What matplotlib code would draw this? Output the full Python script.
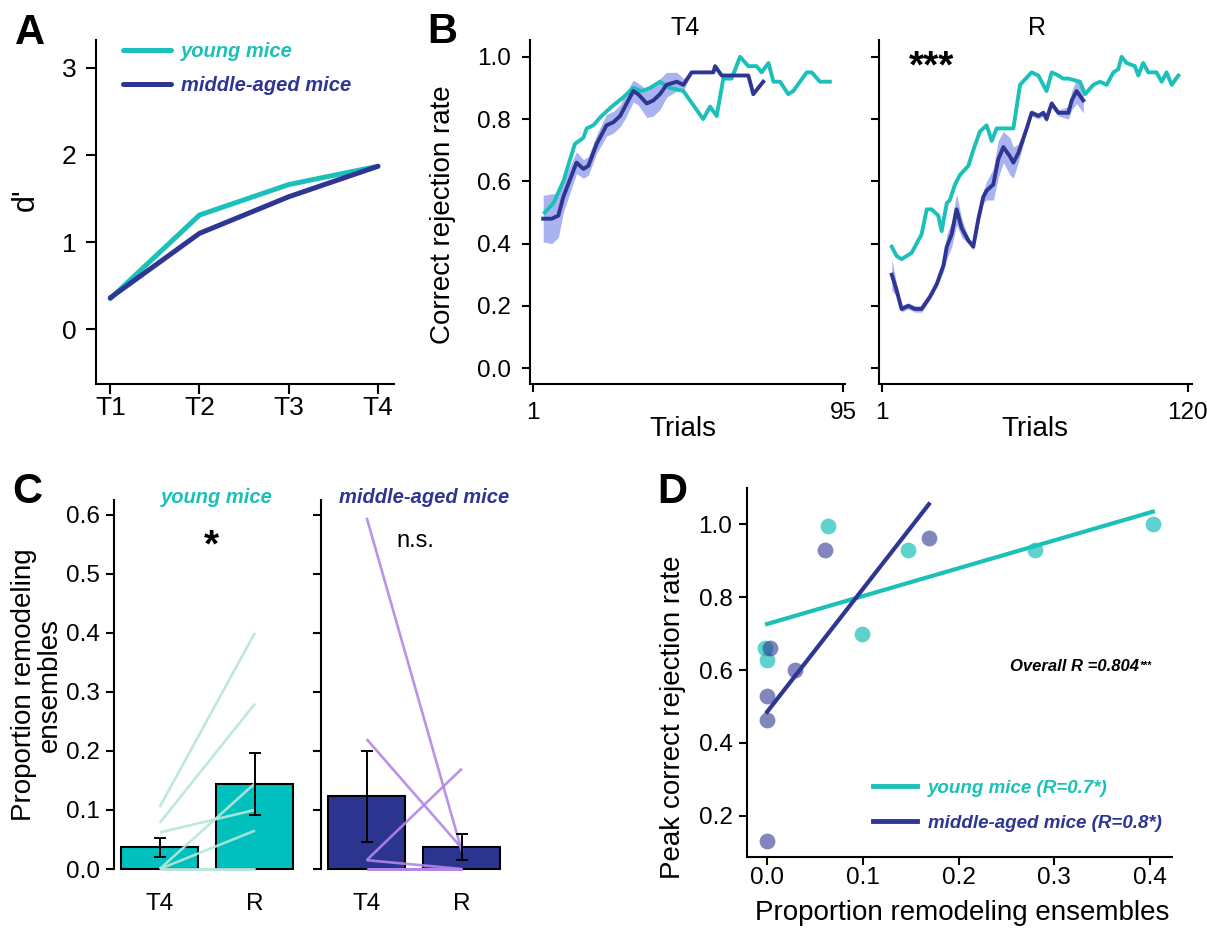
import matplotlib
matplotlib.use('Agg')
import matplotlib.pyplot as plt
import numpy as np
from matplotlib.lines import Line2D

plt.rcParams['font.family'] = ['Liberation Sans', 'DejaVu Sans']

CYAN = '#1bc0b9'
NAVY = '#2e3592'
CYAN_BAR = '#00c0bd'
NAVY_BAR = '#2b3590'
BAND = '#a9b3ef'
MINT = '#b7e6da'
PURPLE = '#b386e6'

# ---------------- Panel A data ----------------
sessions = ['T1', 'T2', 'T3', 'T4']
young_dprime = [0.35, 1.31, 1.66, 1.87]
middle_dprime = [0.36, 1.10, 1.52, 1.87]

# ---------------- Panel B data (T4) ----------------
t4_young_trial = [4.6, 7.2, 10.2, 13.7, 16.3, 17.3, 19.3, 21.8, 24.9, 28.4,
                  31.4, 34, 36.5, 39.5, 42.5, 46.6, 48.6, 52.6, 54.7, 56.7,
                  58.7, 61.2, 63.8, 66.3, 68.8, 70.3, 72.4, 73.9, 75.9, 78.4,
                  79.9, 84, 85.5, 88, 91]
t4_young_rate = [0.50, 0.53, 0.60, 0.72, 0.74, 0.77, 0.78, 0.81, 0.84, 0.87,
                 0.90, 0.89, 0.90, 0.92, 0.90, 0.89, 0.86, 0.80, 0.84, 0.81,
                 0.93, 0.93, 1.0, 0.97, 0.97, 0.95, 0.98, 0.92, 0.92, 0.88,
                 0.89, 0.95, 0.95, 0.92, 0.92]
t4_middle_trial = [4.1, 6.7, 8.7, 10.2, 14.2, 16.3, 17.8, 20.3, 23.3, 25.4,
                   27.4, 28.9, 31.4, 32.9, 35.5, 37.5, 39.5, 41.5, 44.6, 46.6,
                   49.1, 55.7, 56.2, 58.2, 66.3, 67.8, 70.8]
t4_middle_rate = [0.48, 0.48, 0.49, 0.55, 0.66, 0.64, 0.65, 0.72, 0.78, 0.79,
                  0.81, 0.84, 0.89, 0.88, 0.85, 0.86, 0.88, 0.91, 0.92, 0.91,
                  0.95, 0.95, 0.97, 0.94, 0.94, 0.88, 0.92]
t4_middle_sem = [0.075, 0.08, 0.07, 0.05, 0.035, 0.03, 0.03, 0.03, 0.035, 0.035,
                 0.035, 0.04, 0.035, 0.035, 0.045, 0.05, 0.05, 0.04, 0.03, 0.02,
                 0, 0, 0, 0, 0, 0, 0]

# ---------------- Panel B data (R) ----------------
r_young_trial = [4.8, 6.7, 8.6, 12.5, 13.8, 16.4, 18.4, 20.3, 22.9, 24.2,
                 26.2, 27.4, 29.4, 31.3, 34.6, 36.5, 39.1, 41.7, 43.7, 45.6,
                 48.2, 52.1, 54.7, 59.2, 61.8, 65, 67, 69.6, 71.5, 73.5,
                 78, 80, 83.2, 85.8, 88.4, 91, 92.9, 94.2, 96.2, 99.4,
                 100.7, 102.6, 104.6, 107.8, 109.8, 111.7, 113.7, 116.3]
r_young_rate = [0.39, 0.36, 0.35, 0.37, 0.39, 0.43, 0.51, 0.51, 0.49, 0.44,
                0.53, 0.54, 0.59, 0.62, 0.65, 0.70, 0.76, 0.78, 0.73, 0.77,
                0.77, 0.77, 0.91, 0.95, 0.94, 0.89, 0.95, 0.94, 0.93, 0.93,
                0.92, 0.88, 0.91, 0.92, 0.91, 0.95, 0.96, 1.0, 0.98, 0.97,
                0.94, 0.98, 0.95, 0.95, 0.92, 0.95, 0.91, 0.94]
r_middle_trial = [4.8, 6.7, 8.6, 11.2, 13.8, 16.4, 19.7, 22.3, 24.9, 26.2,
                  28.1, 30, 32, 34.6, 36.5, 38.5, 40.4, 41.7, 44.3, 46.2,
                  48.2, 50.8, 52.1, 54, 57.3, 59.2, 61.8, 63.8, 65, 67,
                  69.6, 73.5, 74.8, 76.7, 79.3]
r_middle_rate = [0.30, 0.25, 0.19, 0.20, 0.19, 0.19, 0.23, 0.27, 0.33, 0.39,
                 0.43, 0.51, 0.45, 0.41, 0.39, 0.48, 0.55, 0.57, 0.59, 0.67,
                 0.71, 0.68, 0.66, 0.69, 0.77, 0.82, 0.81, 0.82, 0.80, 0.85,
                 0.82, 0.82, 0.86, 0.89, 0.86]
r_middle_sem = [0.05, 0.02, 0.01, 0.01, 0.01, 0.01, 0.01, 0.01, 0.02, 0.04,
                0.04, 0.05, 0.03, 0.01, 0.01, 0.02, 0.02, 0.03, 0.05, 0.06,
                0.05, 0.06, 0.05, 0.03, 0.01, 0.01, 0.01, 0.01, 0.01, 0.01,
                0.01, 0.02, 0.03, 0.04, 0.04]

# ---------------- Panel C data ----------------
stages = ['T4', 'R']
young_T4 = [0.105, 0.078, 0.062, 0.0, 0.0, 0.0, 0.0]
young_R = [0.40, 0.28, 0.10, 0.145, 0.065, 0.0, 0.0]
young_bar_mean = [0.037, 0.144]
young_bar_sem = [0.016, 0.052]
middle_T4 = [0.595, 0.22, 0.015, 0.015, 0.0, 0.0, 0.0]
middle_R = [0.03, 0.035, 0.17, 0.0, 0.0, 0.0, 0.0]
middle_bar_mean = [0.123, 0.038]
middle_bar_sem = [0.077, 0.022]

# ---------------- Panel D data ----------------
young_prop = [-0.002, 0.0, 0.064, 0.099, 0.147, 0.28, 0.403]
young_peak = [0.661, 0.629, 0.997, 0.698, 0.931, 0.929, 1.0]
middle_prop = [0.003, 0.0, 0.0, 0.0, 0.029, 0.061, 0.169]
middle_peak = [0.661, 0.530, 0.464, 0.132, 0.600, 0.931, 0.963]

# ---------------- figure ----------------
W, H = 1207, 930
fig = plt.figure(figsize=(W / 100, H / 100), dpi=100)


def ax_px(l, t, r, b):
    return fig.add_axes([l / W, 1 - b / H, (r - l) / W, (b - t) / H])


def style(ax, tl=6, pad=5, size=17.5):
    for s in ['top', 'right']:
        ax.spines[s].set_visible(False)
    for s in ['left', 'bottom']:
        ax.spines[s].set_linewidth(1.5)
    ax.tick_params(width=1.5, length=tl, labelsize=size, pad=pad, direction='out')


LBL = 20

# ---- Panel A ----
axA = ax_px(96, 40, 394, 384)
style(axA, tl=7, size=19)
xa = np.arange(len(sessions))
axA.plot(xa, young_dprime, color=CYAN, lw=3.6, solid_capstyle='round', label='young mice')
axA.plot(xa, middle_dprime, color=NAVY, lw=3.6, solid_capstyle='round', label='middle-aged mice')
axA.set_xlim(-0.16, 3.18)
axA.set_ylim(-0.63, 3.32)
axA.set_xticks(xa)
axA.set_xticklabels(sessions)
axA.set_yticks([0, 1, 2, 3])
axA.tick_params(axis='x', pad=1.5)
axA.tick_params(axis='y', pad=7)
axA.set_ylabel("d'", fontsize=22)
axA.yaxis.set_label_coords(-0.235, 0.535)
axA.yaxis.label.set_va('center')
axA.legend(loc='upper left', bbox_to_anchor=(0.09, 0.995), frameon=False,
           handlelength=2.4, handletextpad=0.5, labelspacing=0.75,
           borderpad=0, borderaxespad=0, labelcolor='linecolor',
           prop={'weight': 'bold', 'style': 'italic', 'size': 14.5})

# ---- Panel B (T4) ----
axB1 = ax_px(530, 40, 845, 384)
style(axB1)
lo = np.array(t4_middle_rate) - np.array(t4_middle_sem)
hi = np.array(t4_middle_rate) + np.array(t4_middle_sem)
axB1.fill_between(t4_middle_trial, lo, hi, color=BAND, lw=0)
axB1.plot(t4_young_trial, t4_young_rate, color=CYAN, lw=2.8)
axB1.plot(t4_middle_trial, t4_middle_rate, color=NAVY, lw=2.8)
axB1.set_xlim(0.1, 95.6)
axB1.set_ylim(-0.051, 1.054)
axB1.set_xticks([1, 95])
axB1.set_yticks([0, 0.2, 0.4, 0.6, 0.8, 1.0])
axB1.set_yticklabels(['0.0', '0.2', '0.4', '0.6', '0.8', '1.0'])
axB1.tick_params(axis='x', pad=6.8)
axB1.tick_params(axis='y', pad=8)
axB1.set_title('T4', fontsize=18, pad=0)
axB1.title.set_va('center')
axB1.title.set_position((0.492, 1.041))
axB1.set_ylabel('Correct rejection rate', fontsize=LBL)
axB1.yaxis.set_label_coords(-0.276, 0.491)
axB1.yaxis.label.set_va('center')
axB1.set_xlabel('Trials', fontsize=LBL)
axB1.xaxis.set_label_coords(0.486, -0.13)
axB1.xaxis.label.set_va('center')

# ---- Panel B (R) ----
axB2 = ax_px(879, 40, 1192, 384)
style(axB2)
lo = np.array(r_middle_rate) - np.array(r_middle_sem)
hi = np.array(r_middle_rate) + np.array(r_middle_sem)
axB2.fill_between(r_middle_trial, lo, hi, color=BAND, lw=0)
axB2.plot(r_young_trial, r_young_rate, color=CYAN, lw=2.8)
axB2.plot(r_middle_trial, r_middle_rate, color=NAVY, lw=2.8)
axB2.set_xlim(-0.17, 121.6)
axB2.set_ylim(-0.051, 1.054)
axB2.set_xticks([1, 120])
axB2.set_yticks([0, 0.2, 0.4, 0.6, 0.8, 1.0])
axB2.tick_params(axis='y', labelleft=False)
axB2.tick_params(axis='x', pad=6.8)
axB2.set_title('R', fontsize=18, pad=0)
axB2.title.set_va('center')
axB2.title.set_position((0.505, 1.041))
axB2.set_xlabel('Trials', fontsize=LBL)
axB2.xaxis.set_label_coords(0.498, -0.13)
axB2.xaxis.label.set_va('center')
axB2.text(0.169, 0.892, '***', transform=axB2.transAxes, ha='center',
          va='baseline', fontsize=28, fontweight='bold')


# ---- Panel C ----
def panel_c(ax, t4, r, mean, sem, barcol, linecol, title, titlecol):
    style(ax, size=17.5, pad=4)
    ax.spines['bottom'].set_visible(False)
    xb = np.arange(len(stages))
    ax.bar(xb, mean, width=0.81, color=barcol, edgecolor='black', lw=1.5,
           clip_on=False, zorder=1)
    for a, b in zip(t4, r):
        ax.plot(xb, [a, b], color=linecol, lw=1.9, alpha=0.9, zorder=2,
                clip_on=False, solid_capstyle='butt')
    ax.errorbar(xb, mean, yerr=sem, fmt='none', ecolor='black',
                elinewidth=1.4, capsize=4, capthick=1.4, zorder=3)
    ax.set_xlim(-0.48, 1.5)
    ax.set_ylim(0, 0.625)
    ax.set_xticks(xb)
    ax.set_xticklabels(stages)
    ax.tick_params(axis='x', length=0, pad=17)
    ax.set_yticks([0, 0.1, 0.2, 0.3, 0.4, 0.5, 0.6])
    ax.set_yticklabels(['0.0', '0.1', '0.2', '0.3', '0.4', '0.5', '0.6'])
    ax.text(0.6, 0.62, title, color=titlecol, ha='center', va='baseline',
            fontsize=14.5, fontweight='bold', fontstyle='italic')
    return ax


axC1 = ax_px(114, 500, 302.5, 869)
panel_c(axC1, young_T4, young_R, young_bar_mean, young_bar_sem, CYAN_BAR, MINT,
        'young mice', CYAN)
axC1.text(0.547, 0.529, '*', ha='center', va='baseline', fontsize=28, fontweight='bold')
axC1.set_ylabel('Proportion remodeling\nensembles', fontsize=LBL, linespacing=1.0)
axC1.yaxis.set_label_coords(-0.41, 0.499)
axC1.yaxis.label.set_va('center')

axC2 = ax_px(321, 500, 509.5, 869)
panel_c(axC2, middle_T4, middle_R, middle_bar_mean, middle_bar_sem, NAVY_BAR, PURPLE,
        'middle-aged mice', NAVY)
axC2.tick_params(axis='y', labelleft=False)
axC2.text(0.516, 0.546, 'n.s.', ha='center', va='baseline', fontsize=17)

# ---- Panel D ----
axD = ax_px(747, 488, 1172, 857)
style(axD, pad=4.5)
axD.scatter(young_prop, young_peak, s=130, color=CYAN, alpha=0.7, lw=0, zorder=2)
axD.scatter(middle_prop, middle_peak, s=130, color=NAVY, alpha=0.6, lw=0, zorder=2)
ky = np.polyfit(young_prop, young_peak, 1)
km = np.polyfit(middle_prop, middle_peak, 1)
xy = np.array([0.0, max(young_prop)])
xm = np.array([0.0, max(middle_prop)])
axD.plot(xy, np.polyval(ky, xy), color=CYAN, lw=3, zorder=3)
axD.plot(xm, np.polyval(km, xm), color=NAVY, lw=3, zorder=3)
axD.set_xlim(-0.021, 0.423)
axD.set_ylim(0.087, 1.10)
axD.set_xticks([0, 0.1, 0.2, 0.3, 0.4])
axD.set_xticklabels(['0.0', '0.1', '0.2', '0.3', '0.4'])
axD.set_yticks([0.2, 0.4, 0.6, 0.8, 1.0])
axD.set_yticklabels(['0.2', '0.4', '0.6', '0.8', '1.0'])
axD.tick_params(axis='x', pad=1.5)
axD.set_ylabel('Peak correct rejection rate', fontsize=LBL)
axD.yaxis.set_label_coords(-0.174, 0.379)
axD.yaxis.label.set_va('center')
axD.set_xlabel('Proportion remodeling ensembles', fontsize=LBL)
axD.xaxis.set_label_coords(0.506, -0.152)
axD.xaxis.label.set_va('center')
tO = axD.text(0.619, 0.504, 'Overall R =0.804', transform=axD.transAxes,
              ha='left', va='baseline', fontsize=12, fontweight='bold', fontstyle='italic')
axD.annotate('***', xy=(1, 1), xycoords=tO, xytext=(0.5, -1), textcoords='offset points',
             ha='left', va='top', fontsize=7.5, fontweight='bold', fontstyle='italic')
handles = [Line2D([], [], color=CYAN, lw=3.5), Line2D([], [], color=NAVY, lw=3.5)]
axD.legend(handles, ['young mice (R=0.7*)', 'middle-aged mice (R=0.8*)'],
           loc='lower left', bbox_to_anchor=(0.296, 0.069), frameon=False,
           handlelength=2.35, handletextpad=0.6, labelspacing=0.95,
           borderpad=0, borderaxespad=0, labelcolor='linecolor',
           prop={'weight': 'bold', 'style': 'italic', 'size': 13.5})

# ---- panel letters ----
for letter, x, y in [('A', 15, 44), ('B', 427, 43), ('C', 12, 503), ('D', 657, 503)]:
    fig.text(x / W, 1 - y / H, letter, fontsize=30, fontweight='bold',
             ha='left', va='baseline')

fig.savefig('out.png', dpi=100)
